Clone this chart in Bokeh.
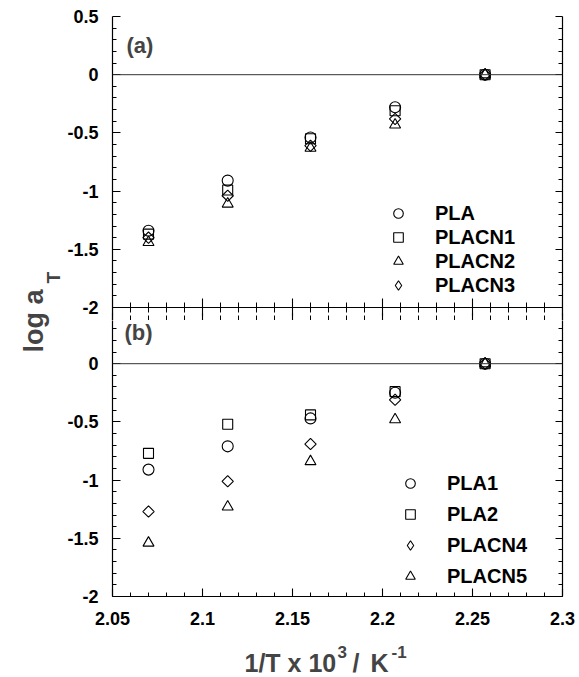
from math import pi
import numpy as np
from bokeh.plotting import figure
from bokeh.layouts import row, column
from bokeh.models import (Range1d, LinearAxis, FixedTicker, Span, Label,
                          Legend, LegendItem)
from bokeh.embed import file_html
from bokeh.resources import INLINE

# ---------------- data ----------------
inv_T = [2.070, 2.114, 2.160, 2.207, 2.257]          # 1/T x 10^3 / K^-1

# panel (a)
PLA    = [-1.34, -0.91, -0.54, -0.28, 0.0]
PLACN1 = [-1.37, -0.99, -0.55, -0.31, 0.0]
PLACN2 = [-1.44, -1.11, -0.63, -0.43, 0.0]
PLACN3 = [-1.40, -1.04, -0.61, -0.38, 0.0]

# panel (b)
PLA1   = [-0.91, -0.71, -0.47, -0.25, 0.0]
PLA2   = [-0.77, -0.52, -0.44, -0.24, 0.0]
PLACN4 = [-1.27, -1.01, -0.69, -0.31, 0.0]
PLACN5 = [-1.54, -1.23, -0.84, -0.48, 0.0]

X_TICKS = [2.05, 2.10, 2.15, 2.20, 2.25, 2.30]
X_TICK_LABELS = ["2.05", "2.1", "2.15", "2.2", "2.25", "2.3"]
Y_TICKS_A = [0.5, 0.0, -0.5, -1.0, -1.5, -2.0]
Y_TICK_LABELS_A = ["0.5", "0", "-0.5", "-1", "-1.5", "-2"]
Y_TICKS_B = [0.0, -0.5, -1.0, -1.5, -2.0]
Y_TICK_LABELS_B = ["0", "-0.5", "-1", "-1.5", "-2"]

# ---------------- layout constants ----------------
W, H = 579, 677
LEFT_W = 64
FIG_W = W - LEFT_W
FRAME_L, FRAME_R = 110, 562
PPU = 116.4                 # pixels per y unit
TOP = 16                    # canvas y of frame top
BOUND = 307                 # canvas y of the panel boundary
SPLIT = 320                 # canvas y where figure 1 ends
BOTTOM = 596                # canvas y of frame bottom
TITLE_TOP = 634             # canvas y where the x-title strip starts
Y1_START = -2.0 - (SPLIT - BOUND) / PPU
Y2_END = -2.0 + (BOTTOM - SPLIT) / PPU

FONT = "Liberation Sans"
x_minor = [v for v in np.round(np.arange(2.05, 2.3001, 0.01), 2) if v not in X_TICKS]
y_minor = [v for v in np.round(np.arange(-2.0, 0.5001, 0.1), 1) if v not in Y_TICKS_A]


def style_axis(ax, ticks, minor, labels=None, tin=8, tout=0, mtin=4, mtout=0):
    ax.ticker = FixedTicker(ticks=ticks, minor_ticks=minor)
    ax.major_tick_in = tin
    ax.major_tick_out = tout
    ax.minor_tick_in = mtin
    ax.minor_tick_out = mtout
    ax.axis_line_color = "black"
    ax.axis_line_width = 1.2
    ax.major_tick_line_color = "black"
    ax.major_tick_line_width = 1.1
    ax.minor_tick_line_color = "black"
    ax.minor_tick_line_width = 1.0
    if labels is None:
        ax.major_label_text_color = None
        ax.major_label_text_font_size = "0px"
        ax.major_label_standoff = 0
    else:
        ax.major_label_overrides = {float(t): s for t, s in zip(ticks, labels)}
        ax.major_label_text_font = FONT
        ax.major_label_text_font_style = "bold"
        ax.major_label_text_font_size = "18px"
        ax.major_label_text_color = "black"


def add_series(p, specs):
    rends = {}
    for name, ys, marker, size, angle, legend_marker in specs:
        r = p.scatter(inv_T, ys, marker=marker, size=size, angle=angle,
                      fill_color=None, line_color="black", line_width=1.1)
        if legend_marker is not None:
            # legend glyphs are drawn unrotated, so use a diamond proxy
            # (a single undefined point: nothing is drawn in the plot itself)
            r = p.scatter(x=[np.nan], y=[np.nan], marker=legend_marker, size=size,
                          fill_color=None, line_color="black", line_width=1.1)
        rends[name] = r
    return rends


def make_legend(p, rends, order, loc, spacing):
    items = [LegendItem(label=n, renderers=[rends[n]]) for n in order]
    lg = Legend(items=items, location=loc, spacing=spacing, padding=0, margin=0,
                glyph_width=24, glyph_height=24, label_height=24, label_standoff=25,
                label_text_font=FONT, label_text_font_style="bold",
                label_text_font_size="20px", label_text_color="black",
                border_line_color=None, background_fill_alpha=0)
    p.add_layout(lg)


# ---------------- panel (a) ----------------
p1 = figure(width=FIG_W, height=SPLIT, x_range=Range1d(2.05, 2.30),
            y_range=Range1d(Y1_START, 0.5), output_backend="svg",
            toolbar_location=None, min_border_left=FRAME_L - LEFT_W,
            min_border_right=W - FRAME_R, min_border_top=TOP, min_border_bottom=0)
p1.outline_line_color = None
p1.xgrid.visible = False
p1.ygrid.visible = False
p1.add_layout(LinearAxis(), "right")
p1.add_layout(LinearAxis(), "above")

style_axis(p1.yaxis[0], Y_TICKS_A, y_minor, Y_TICK_LABELS_A)
p1.yaxis[0].major_label_standoff = 14
style_axis(p1.yaxis[1], Y_TICKS_A, y_minor, None, tin=7, mtin=4)
style_axis(p1.xaxis[1], X_TICKS, x_minor, None, tin=8, mtin=5)
# boundary between the panels: ticks pointing into both panels
style_axis(p1.xaxis[0], X_TICKS, x_minor, None, tin=9, tout=9, mtin=5, mtout=5)
p1.xaxis[0].fixed_location = -2.0

p1.add_layout(Span(location=0, dimension="width", line_color="#333333", line_width=1))

r1 = add_series(p1, [("PLA", PLA, "circle", 11, 0, None),
                     ("PLACN1", PLACN1, "square", 10, 0, None),
                     ("PLACN2", PLACN2, "triangle", 11, 0, None),
                     ("PLACN3", PLACN3, "square", 8, pi / 4, "diamond")])
make_legend(p1, r1, ["PLA", "PLACN1", "PLACN2", "PLACN3"], (274, SPLIT - 297), 0)
p1.add_layout(Label(x=14, y=SPLIT - 45, x_units="screen", y_units="screen",
                    text="(a)", text_font=FONT, text_font_style="bold",
                    text_font_size="22px", text_baseline="middle"))

# ---------------- panel (b) ----------------
p2 = figure(width=FIG_W, height=TITLE_TOP - SPLIT, x_range=p1.x_range,
            y_range=Range1d(-2.0, Y2_END), output_backend="svg",
            toolbar_location=None, min_border_left=FRAME_L - LEFT_W,
            min_border_right=W - FRAME_R, min_border_top=0,
            min_border_bottom=TITLE_TOP - BOTTOM)
p2.outline_line_color = None
p2.xgrid.visible = False
p2.ygrid.visible = False
p2.add_layout(LinearAxis(), "right")

style_axis(p2.yaxis[0], Y_TICKS_B, y_minor, Y_TICK_LABELS_B)
p2.yaxis[0].major_label_standoff = 14
style_axis(p2.yaxis[1], Y_TICKS_B, y_minor, None, tin=7, mtin=4)
style_axis(p2.xaxis[0], X_TICKS, x_minor, X_TICK_LABELS, tin=8, mtin=4)
p2.xaxis[0].major_label_standoff = 15

p2.add_layout(Span(location=0, dimension="width", line_color="#333333", line_width=1))

r2 = add_series(p2, [("PLA1", PLA1, "circle", 11, 0, None),
                     ("PLA2", PLA2, "square", 10, 0, None),
                     ("PLACN4", PLACN4, "square", 8, pi / 4, "diamond"),
                     ("PLACN5", PLACN5, "triangle", 11, 0, None)])
make_legend(p2, r2, ["PLA1", "PLA2", "PLACN4", "PLACN5"], (286, 8), 7)
p2.add_layout(Label(x=12, y=BOTTOM - 332, x_units="screen", y_units="screen",
                    text="(b)", text_font=FONT, text_font_style="bold",
                    text_font_size="22px", text_baseline="middle"))

# ---------------- x-axis title strip (with superscripts) ----------------
# (the strip's frame is aligned with the panels' frames, starting at FRAME_L)
bf = figure(width=FIG_W, height=H - TITLE_TOP, x_range=Range1d(0, 1),
            y_range=Range1d(0, 1), output_backend="svg", toolbar_location=None,
            x_axis_type=None, y_axis_type=None, min_border=0)
bf.outline_line_color = None
bf.xgrid.visible = False
bf.ygrid.visible = False
for txt, x_abs, base_abs, fs in [("1/T x 10", 242, 662, "25px"),
                                 ("3", 335, 651, "17px"),
                                 ("/", 350, 662, "25px"),
                                 ("K", 368, 662, "25px"),
                                 ("-1", 389, 651, "17px")]:
    bf.add_layout(Label(x=x_abs - FRAME_L, y=H - base_abs, x_units="screen",
                        y_units="screen", text=txt, text_font=FONT,
                        text_font_style="bold", text_font_size=fs,
                        text_baseline="alphabetic", text_align="left"))

# ---------------- y-axis title (spans both panels) ----------------
lf = figure(width=LEFT_W, height=H, x_range=Range1d(0, 1), y_range=Range1d(0, 1),
            output_backend="svg", toolbar_location=None, x_axis_type=None,
            y_axis_type=None, min_border=0)
lf.outline_line_color = None
lf.xgrid.visible = False
lf.ygrid.visible = False
lf.add_layout(Label(x=33, y=H - 352, x_units="screen", y_units="screen",
                    text="log a", angle=pi / 2, text_font=FONT,
                    text_font_style="bold", text_font_size="27px",
                    text_align="left", text_baseline="alphabetic"))
lf.add_layout(Label(x=53, y=H - 283, x_units="screen", y_units="screen",
                    text="T", angle=pi / 2, text_font=FONT,
                    text_font_style="bold", text_font_size="19px",
                    text_align="left", text_baseline="alphabetic"))

layout = row(lf, column(p1, p2, bf, spacing=0), spacing=0)
open("out.html", "w").write(file_html(layout, INLINE))
